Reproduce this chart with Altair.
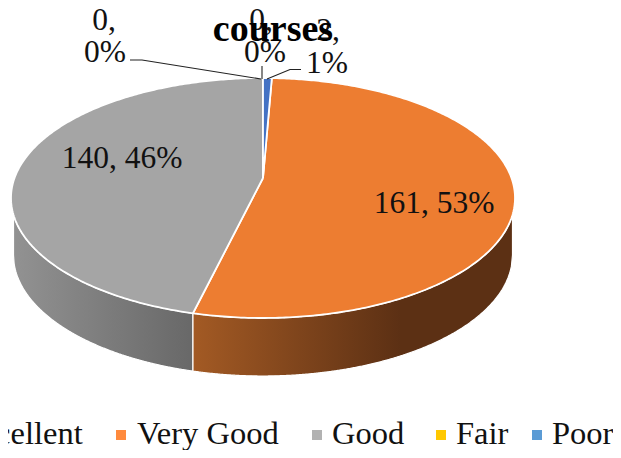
import math
import altair as alt
import pandas as pd

categories = ["Excellent", "Very Good", "Good", "Fair", "Poor"]
values = [0, 161, 140, 0, 2]
top_colors = ["#5B9BD5", "#ED7D31", "#A5A5A5", "#FFC000", "#4472C4"]
legend_colors = ["#5B9BD5", "#FF8A3D", "#B2B2B2", "#FFC800", "#5B9BD5"]
label_lines = [["0,", "0%"], ["161, 53%"], ["140, 46%"], ["0,", "0%"], ["2,", "1%"]]
title_text = "courses"

CX, CY, RX, RY, E = 263.0, 198.0, 252.0, 120.0, 1 / 6
BCY, BRX, BRY = 255.0, 249.5, 121.0
APEX = (263.0, 178.0)


def rim(theta_deg):
    t = math.radians(theta_deg)
    X, Y = math.sin(t), math.cos(t)
    d = 1 + E * Y
    return (CX + RX * X * math.sqrt(1 - E * E) / d, CY - RY * (Y + E) / d)


total = sum(values)
start = 2 / total * 360  # the Poor slice occupies the wedge just right of 12 o'clock
rows = []
a = start
for i, (c, v) in enumerate(zip(categories, values)):
    if c == "Poor":
        a0, a1 = 0.0, start
    else:
        a0, a1 = a, a + v / total * 360
        a = a1
    if v == 0:
        continue
    n = max(2, int((a1 - a0) * 1.5))
    pts = [APEX] + [rim(a0 + (a1 - a0) * k / n) for k in range(n + 1)] + [APEX]
    for k, (x, y) in enumerate(pts):
        rows.append(dict(cat=c, x=x, y=y, k=k))
slices = pd.DataFrame(rows)

split_x = rim(start + values[1] / total * 360)[0]


def side_rows(x0, x1):
    out = []
    n = 300
    for k in range(n + 1):
        x = x0 + (x1 - x0) * k / n
        top = CY + RY * math.sqrt(max(0, 1 - ((x - CX) / RX) ** 2))
        bot = BCY + BRY * math.sqrt(max(0, 1 - ((x - CX) / BRX) ** 2))
        out.append(dict(x=x, y=top, y2=bot))
    return pd.DataFrame(out)


xs = alt.Scale(domain=[8, 613], range=[0, 605])
ys = alt.Scale(domain=[8, 450], range=[0, 442])
X = lambda f="x": alt.X(f"{f}:Q", scale=xs, axis=None)
Y = lambda f="y": alt.Y(f"{f}:Q", scale=ys, axis=None)


def grad(stops):
    return alt.Gradient(
        gradient="linear", x1=0, x2=1, y1=0, y2=0,
        stops=[alt.GradientStop(offset=o, color=c) for o, c in stops],
    )


side_gray = alt.Chart(side_rows(13.5, split_x)).mark_area(
    color=grad([(0, "#929292"), (1, "#686868")]), stroke="white", strokeWidth=1.2
).encode(x=X(), y=Y(), y2="y2:Q")
side_orange = alt.Chart(side_rows(split_x, 512.5)).mark_area(
    color=grad([(0, "#A35A24"), (0.65, "#5C3014"), (1, "#5C3014")]), stroke="white", strokeWidth=1.2
).encode(x=X(), y=Y(), y2="y2:Q")

layers = [side_gray, side_orange]
for c, col in zip(categories, top_colors):
    d = slices[slices.cat == c]
    if len(d):
        layers.append(
            alt.Chart(d).mark_line(fill=col, stroke="white", strokeWidth=1.8, interpolate="linear")
            .encode(x=X(), y=Y(), order="k:Q")
        )

leaders = pd.DataFrame([
    dict(g=0, k=0, x=130, y=60), dict(g=0, k=1, x=142, y=60), dict(g=0, k=2, x=261, y=79),
    dict(g=1, k=0, x=262, y=66), dict(g=1, k=1, x=262, y=79),
    dict(g=2, k=0, x=267, y=79), dict(g=2, k=1, x=290, y=69.5), dict(g=2, k=2, x=301, y=69.5),
])
layers.append(
    alt.Chart(leaders).mark_line(color="#222222", strokeWidth=1.1)
    .encode(x=X(), y=Y(), detail="g:N", order="k:Q")
)

text_rows = []
for (cat_i, line, px, py) in [
    (0, 0, 104, 30), (0, 1, 105, 62),
    (3, 0, 261, 30), (3, 1, 265, 62),
    (4, 0, 328, 40), (4, 1, 327, 73),
    (1, 0, 434, 213), (2, 0, 122, 168),
]:
    text_rows.append(dict(t=label_lines[cat_i][line], x=px, y=py))
labels = pd.DataFrame(text_rows)
layers.append(
    alt.Chart(labels).mark_text(font="Liberation Serif", fontSize=31.5, color="#111111", baseline="alphabetic")
    .encode(x=X(), y=Y(), text="t:N")
)
layers.append(
    alt.Chart(pd.DataFrame([dict(t=title_text, x=273, y=41)]))
    .mark_text(font="Liberation Serif", fontSize=38, fontWeight="bold", color="#000000", baseline="alphabetic")
    .encode(x=X(), y=Y(), text="t:N")
)

leg_x = [-58, 121, 317, 441, 537]
leg_text_x = [-40, 137, 332, 456, 552]
legend_df = pd.DataFrame(dict(c=categories, col=legend_colors, x=leg_x, tx=leg_text_x, y=[435] * 5, ty=[444] * 5))
layers.append(
    alt.Chart(legend_df).mark_square(size=100, opacity=1, filled=True)
    .encode(x=X(), y=Y(), color=alt.Color("col:N", scale=None, legend=None))
)
layers.append(
    alt.Chart(legend_df).mark_text(font="Liberation Serif", fontSize=32.5, align="left", baseline="alphabetic", color="#111111")
    .encode(x=X("tx"), y=Y("ty"), text="c:N")
)

chart = alt.layer(*layers).properties(
    width=605, height=442, padding=0, autosize=alt.AutoSizeParams(type="none")
).configure_view(stroke=None).resolve_scale(color="independent")

chart.save("out.html", embed_options={"renderer": "svg", "actions": False})
